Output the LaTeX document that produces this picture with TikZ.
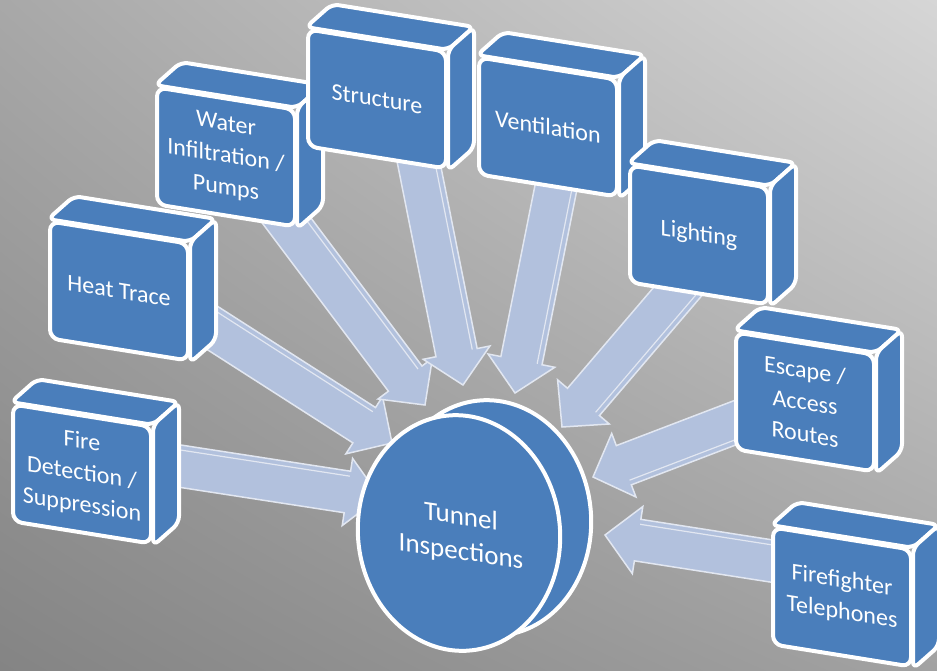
\documentclass[tikz,border=0pt]{standalone}
\usepackage{fontspec}
\setmainfont{Carlito}
\usetikzlibrary{calc,shadings}

\definecolor{boxblue}{RGB}{74,126,187}
\definecolor{flowfill}{RGB}{178,193,221}
\definecolor{flowedge}{RGB}{226,231,241}
\definecolor{bgul}{RGB}{168,168,168}
\definecolor{bgur}{RGB}{214,214,214}
\definecolor{bgll}{RGB}{132,132,132}
\definecolor{bglr}{RGB}{162,162,162}

\pgfdeclarelayer{bg}
\pgfdeclarelayer{flows}
\pgfdeclarelayer{sides}
\pgfsetlayers{bg,flows,sides,main}

\tikzset{
  front/.style={draw=white, line width=4pt, fill=boxblue, rounded corners=9pt,
    minimum width=138pt, minimum height=117pt, inner sep=2pt, align=center,
    text=white, font=\fontsize{24}{32}\selectfont, yslant=-0.16, transform shape},
  face/.style={draw=white, line width=4pt, fill=boxblue, rounded corners=7pt, line join=round},
  disc/.style={draw=white, line width=4pt, fill=boxblue},
  hubtext/.style={align=center, text=white, font=\fontsize{27}{35}\selectfont,
    yslant=-0.15, transform shape},
  flowbody/.style={fill=flowfill, draw=flowedge, line width=1.5pt, line join=miter},
  flowbevel/.style={draw=flowedge, line width=1.2pt},
}

% top and right faces of a box
\newcommand\cubesides[1]{%
  \draw[face] (#1.north west) -- ++(26,-23) -- ($(#1.north east)+(26,-23)$) -- (#1.north east) -- cycle;
  \draw[face] (#1.north east) -- ++(26,-23) -- ($(#1.south east)+(26,-23)$) -- (#1.south east) -- cycle;}

% block arrow: [bevel side]{box}{shift of its foot}{tip}
\newcommand\flow[4][90]{%
  \coordinate (fs) at ($(#2)+(#3)$);
  \coordinate (hb) at ($(#4)!33pt!(fs)$);
  \draw[flowbody] (#4) -- ($(hb)!34pt!90:(fs)$) -- ($(hb)!21pt!90:(fs)$)
    -- ($(fs)!21pt!-90:(#4)$) -- ($(fs)!21pt!90:(#4)$)
    -- ($(hb)!21pt!-90:(fs)$) -- ($(hb)!34pt!-90:(fs)$) -- cycle;
  \draw[flowbevel] ($(fs)!16pt!#1:(#4)$) -- ($(hb)!16pt!-#1:(fs)$);}

\begin{document}
\begin{tikzpicture}[x=1pt,y=-1pt]
\useasboundingbox (0,0) rectangle (937,670);
\begin{pgfonlayer}{bg}
\shade[upper left=bgul, upper right=bgur, lower left=bgll, lower right=bglr]
  (0,0) rectangle (937,670);
\end{pgfonlayer}

% boxes
\node[front] (fire) at (82,474) {Fire\\Detection /\\Suppression};
\node[front] (heat) at (119,291) {Heat Trace};
\node[front] (water) at (226,157) {Water\\Infiltration /\\Pumps};
\node[front] (structure) at (377,99) {Structure};
\node[front] (vent) at (548,127) {Ventilation};
\node[front] (light) at (699,235) {Lighting};
\node[front] (escape) at (805,402) {Escape /\\Access\\Routes};
\node[front] (phone) at (842,597) {Firefighter\\Telephones};

% centre disc
\node[hubtext] (hub) at (461,535) {Tunnel\\Inspections};
\coordinate (hubback) at (490,518);
\coordinate (hubfront) at (459,533);

% arrow tips
\coordinate (fireend) at (380,497);
\coordinate (heatend) at (392,443);
\coordinate (waterend) at (425,405);
\coordinate (structureend) at (463,385);
\coordinate (ventend) at (515,393);
\coordinate (lightend) at (562,427);
\coordinate (escapeend) at (593,477);
\coordinate (phoneend) at (605,535);

\begin{pgfonlayer}{flows}
\flow{fire}{0,-23}{fireend}
\flow{heat}{31,-3}{heatend}
\flow{water}{13,0}{waterend}
\flow{structure}{29,0}{structureend}
\flow{vent}{20,0}{ventend}
\flow{light}{27,0}{lightend}
\flow{escape}{0,-6}{escapeend}
\flow[-90]{phone}{0,-25}{phoneend}
\end{pgfonlayer}

\begin{pgfonlayer}{sides}
\foreach \b in {fire,heat,water,structure,vent,light,escape,phone}
  {\cubesides{\b}}
\draw[disc, rotate around={6:(hubback)}] (hubback) ellipse [x radius=101pt, y radius=118pt];
\draw[disc, rotate around={6:(hubfront)}] (hubfront) ellipse [x radius=101pt, y radius=118pt];
\end{pgfonlayer}
\end{tikzpicture}
\end{document}
